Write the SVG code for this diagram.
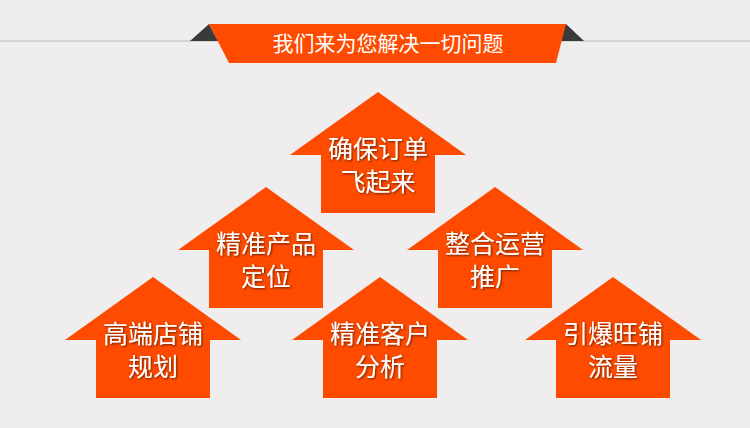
<svg xmlns="http://www.w3.org/2000/svg" width="750" height="428" viewBox="0 0 750 428">
<defs>
<style>
.a{fill:#fe4b00}
.t{fill:#fff;font-family:"Noto Sans CJK SC",sans-serif;font-size:25px;text-anchor:middle;filter:url(#sh)}
.b{fill:#fff;font-family:"Noto Sans CJK SC",sans-serif;font-size:21px;text-anchor:middle}
</style>
<filter id="sh"><feDropShadow dx="1" dy="1" stdDeviation="1" flood-color="#000" flood-opacity="0.6"/></filter>
<path id="ar" d="M0,0 L88,63 L57,63 L57,121 L-57,121 L-57,63 L-88,63 Z"/>
</defs>
<rect width="750" height="428" fill="#efeded"/>
<line x1="0" y1="41" x2="750" y2="41" stroke="#bbb" stroke-width="1"/>
<g id="banner">
<polygon points="190,41 209,24 218,41" fill="#3a3a3a"/>
<polygon points="584,41 566,24 557,41" fill="#3a3a3a"/>
<polygon points="209,24 566,24 556,63 229,63" fill="#fe4b00"/>
<text class="b" x="388" y="51">我们来为您解决一切问题</text>
</g>
<g id="n1"><use href="#ar" class="a" x="378" y="92"/><text class="t" x="378" y="158">确保订单</text><text class="t" x="378" y="191">飞起来</text></g>
<g id="n2"><use href="#ar" class="a" x="266" y="187"/><text class="t" x="266" y="253">精准产品</text><text class="t" x="266" y="286">定位</text></g>
<g id="n3"><use href="#ar" class="a" x="495" y="187"/><text class="t" x="495" y="253">整合运营</text><text class="t" x="495" y="286">推广</text></g>
<g id="n4"><use href="#ar" class="a" x="153" y="277"/><text class="t" x="153" y="343">高端店铺</text><text class="t" x="153" y="376">规划</text></g>
<g id="n5"><use href="#ar" class="a" x="380" y="277"/><text class="t" x="380" y="343">精准客户</text><text class="t" x="380" y="376">分析</text></g>
<g id="n6"><use href="#ar" class="a" x="613" y="277"/><text class="t" x="613" y="343">引爆旺铺</text><text class="t" x="613" y="376">流量</text></g>
<g id="connectors"/>
</svg>
